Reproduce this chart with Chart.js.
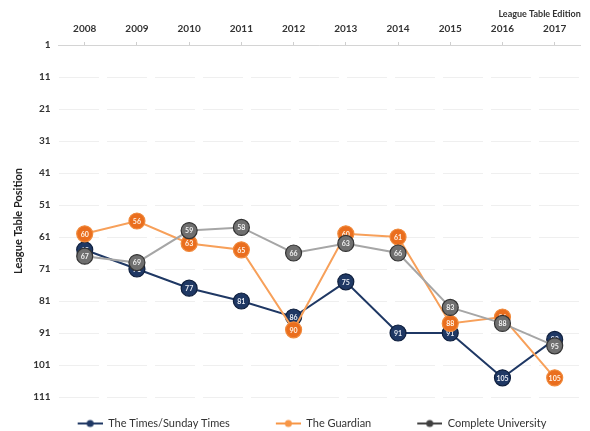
<!DOCTYPE html>
<html>
<head>
<meta charset="utf-8">
<script src="https://cdn.jsdelivr.net/npm/chart.js@4.4.1/dist/chart.umd.min.js"></script>
<style>
  html, body { margin: 0; padding: 0; background: #ffffff; overflow: hidden; }
  #wrap { width: 590px; height: 431px; position: relative; }
</style>
</head>
<body>
<div id="wrap"><canvas id="myChart"></canvas></div>
<script>
var editions = ['2008', '2009', '2010', '2011', '2012', '2013', '2014', '2015', '2016', '2017'];
var timesPos = [65, 71, 77, 81, 86, 75, 91, 91, 105, 93];
var guardianPos = [60, 56, 63, 65, 90, 60, 61, 88, 86, 105];
var completePos = [67, 69, 59, 58, 66, 63, 66, 83, 88, 95];
var positionTicks = [1, 11, 21, 31, 41, 51, 61, 71, 81, 91, 101, 111];

var FONT = 'Lato, "Open Sans", "Liberation Sans", sans-serif';

// small line-with-dot swatch for the legend (transparent strip on the left gives item spacing)
function legendSwatch(color) {
  var c = document.createElement('canvas');
  c.width = 50;
  c.height = 10;
  var g = c.getContext('2d');
  g.strokeStyle = color;
  g.lineWidth = 2;
  g.beginPath();
  g.moveTo(25, 5);
  g.lineTo(50, 5);
  g.stroke();
  g.fillStyle = color;
  g.beginPath();
  g.arc(37.5, 5, 3.5, 0, Math.PI * 2);
  g.fill();
  return c;
}

// value printed inside each marker, drawn right after its own dataset
var pointLabels = {
  id: 'pointLabels',
  afterDatasetDraw: function (chart, args) {
    var ds = chart.data.datasets[args.index];
    var ctx = chart.ctx;
    ctx.save();
    ctx.font = 'bold 7px ' + FONT;
    ctx.fillStyle = ds.labelColor;
    ctx.textAlign = 'center';
    ctx.textBaseline = 'middle';
    args.meta.data.forEach(function (pt, i) {
      ctx.fillText(ds.data[i], pt.x, pt.y + 0.5);
    });
    ctx.restore();
  }
};

var ctx = document.getElementById('myChart').getContext('2d');

var myChart = new Chart(ctx, {
  type: 'line',
  data: {
    labels: editions,
    datasets: [{
      label: 'The Times/Sunday Times',
      data: timesPos,
      borderColor: '#1f3864',
      backgroundColor: '#1f3864',
      pointBorderColor: '#0f1f3d',
      labelColor: '#e8ecf4',
      legendColor: '#1f3864',
      order: 3
    }, {
      label: 'The Guardian',
      data: guardianPos,
      borderColor: '#f7a05a',
      backgroundColor: '#ea6e1e',
      pointBorderColor: '#f08a3c',
      labelColor: '#fff3e6',
      legendColor: '#f79646',
      order: 2
    }, {
      label: 'Complete University',
      data: completePos,
      borderColor: '#a6a6a6',
      backgroundColor: '#6f6f6f',
      pointBorderColor: '#333333',
      labelColor: '#f2f2f2',
      legendColor: '#404040',
      order: 1
    }]
  },
  options: {
    responsive: true,
    maintainAspectRatio: false,
    animation: false,
    layout: { padding: { top: 10, right: 3, left: 12, bottom: -8 } },
    elements: {
      line: { borderWidth: 2, tension: 0 },
      point: { radius: 8, hoverRadius: 8, borderWidth: 1.2 }
    },
    scales: {
      x: {
        position: 'top',
        offset: true,
        // labels sit half a category in, so no side padding is needed
        afterFit: function (scale) {
          scale.paddingLeft = 0;
          scale.paddingRight = 0;
        },
        grid: {
          drawOnChartArea: false,
          tickLength: 3,
          color: '#cfcfcf'
        },
        border: { color: '#d4d4d4' },
        ticks: {
          color: '#333333',
          font: { family: FONT, size: 10, weight: 'bold' },
          padding: 7,
          maxRotation: 0
        },
        title: {
          display: true,
          text: 'League Table Edition',
          align: 'end',
          color: '#333333',
          font: { family: FONT, size: 9, weight: 'bold', lineHeight: 1 },
          padding: { top: 0, bottom: -3 }
        }
      },
      y: {
        reverse: true,
        min: 1,
        max: 111,
        afterBuildTicks: function (axis) {
          axis.ticks = positionTicks.map(function (v) { return { value: v }; });
        },
        grid: {
          color: '#efefef',
          drawTicks: false
        },
        border: { display: false, dash: [40, 8] },
        ticks: {
          color: '#333333',
          font: { family: FONT, size: 10, weight: 'bold' },
          padding: 8
        },
        title: {
          display: true,
          text: 'League Table Position',
          color: '#222222',
          font: { family: FONT, size: 11, weight: 'bold' },
          padding: { top: 0, bottom: 0 }
        }
      }
    },
    plugins: {
      tooltip: { enabled: false },
      legend: {
        position: 'bottom',
        labels: {
          usePointStyle: true,
          pointStyleWidth: 50,
          boxHeight: 10,
          padding: 21,
          color: '#333333',
          font: { family: FONT, size: 11 },
          generateLabels: function (chart) {
            return chart.data.datasets.map(function (ds, i) {
              return {
                text: ds.label,
                fillStyle: ds.legendColor,
                strokeStyle: ds.legendColor,
                lineWidth: 0,
                pointStyle: legendSwatch(ds.legendColor),
                datasetIndex: i,
                fontColor: '#333333'
              };
            });
          }
        }
      }
    }
  },
  plugins: [pointLabels]
});
</script>
</body>
</html>
